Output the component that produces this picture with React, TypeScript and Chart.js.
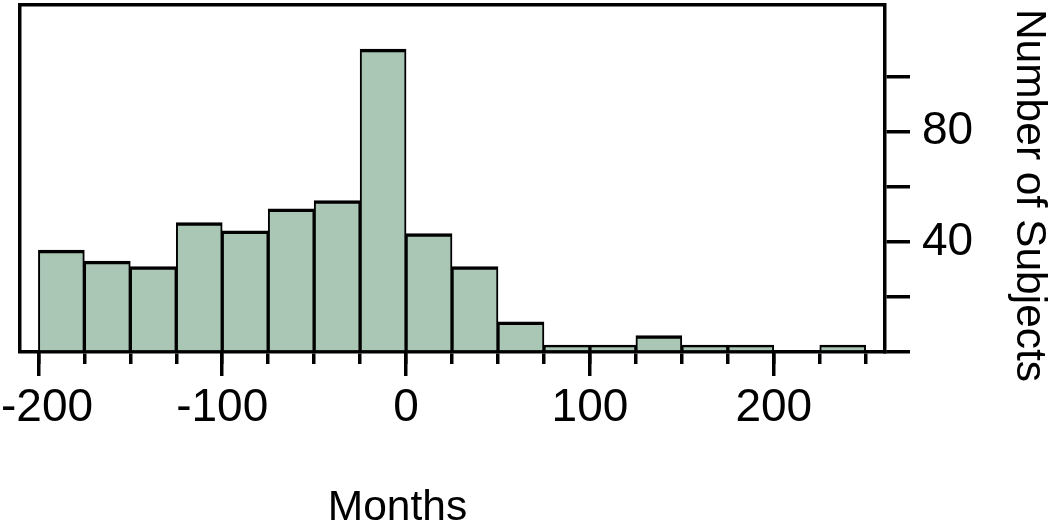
import React, { useEffect, useRef } from "react";
import { Chart, registerables } from "chart.js";

Chart.register(...registerables);

// ---- data ----
const BIN_WIDTH = 25;
const BIN_STARTS = [-200, -175, -150, -125, -100, -75, -50, -25, 0, 25, 50, 75, 100, 125, 150, 175, 200, 225];
const COUNTS = [37, 33, 31, 47, 44, 52, 55, 110, 43, 31, 11, 2.5, 2.5, 6, 2.5, 2.5, 0, 2.5];
const X_MINOR_TICKS = [-200, -175, -150, -125, -100, -75, -50, -25, 0, 25, 50, 75, 100, 125, 150, 175, 200, 225, 250];
const X_MAJOR_TICKS = [-200, -100, 0, 100, 200];
const Y_TICKS = [0, 20, 40, 60, 80, 100];
const Y_LABELED = [40, 80];
const X_TITLE = "Months";
const Y_TITLE = "Number of Subjects";

const FONT = "'Liberation Sans', Arial, Helvetica, sans-serif";
const BAR_FILL = "#aac6b5";
const INK = "#000000";
const LINE_W = 3.5;

const zeroPad = (s: any) => {
  s.paddingLeft = 0;
  s.paddingRight = 0;
  s.paddingTop = 0;
  s.paddingBottom = 0;
};

const titlesPlugin = {
  id: "titlesPlugin",
  beforeDraw(chart: any) {
    const sc = chart.scales.xMajor;
    if (!sc) return;
    const items = sc.getLabelItems();
    if (items && items.length) {
      items[0].options.textAlign = "left";
      items[0].options.translation[0] = 1;
    }
  },
  afterDraw(chart: any) {
    const ctx = chart.ctx;
    ctx.save();
    ctx.fillStyle = INK;
    ctx.font = `42.5px ${FONT}`;
    ctx.textAlign = "center";
    ctx.textBaseline = "alphabetic";
    ctx.fillText(X_TITLE, 397.5, 520);
    ctx.translate(1017, 195.5);
    ctx.rotate(Math.PI / 2);
    ctx.fillText(Y_TITLE, 0, 0);
    ctx.restore();
  },
};

export default function App() {
  const ref = useRef<HTMLCanvasElement | null>(null);

  useEffect(() => {
    if (!ref.current) return;
    const chart = new Chart(ref.current, {
      type: "bar",
      data: {
        datasets: [
          {
            data: BIN_STARTS.map((s, i) => ({ x: s + BIN_WIDTH / 2, y: COUNTS[i] })),
            backgroundColor: BAR_FILL,
            borderColor: INK,
            borderWidth: { top: 3.5, left: 2, right: 2, bottom: 0 },
            borderSkipped: false,
            barPercentage: 1,
            categoryPercentage: 1,
            grouped: false,
            xAxisID: "x",
            yAxisID: "y",
          } as any,
        ],
      },
      options: {
        responsive: false,
        animation: false,
        devicePixelRatio: 1,
        events: [],
        layout: { padding: { left: 20, top: 5, right: 0, bottom: 0 } },
        plugins: {
          legend: { display: false },
          tooltip: { enabled: false },
          title: { display: false },
        },
        scales: {
          x: {
            type: "linear",
            position: "bottom",
            min: -210,
            max: 260.5,
            offset: false,
            weight: 0,
            z: 1,
            afterBuildTicks: (s: any) => {
              s.ticks = X_MINOR_TICKS.map((v) => ({ value: v }));
            },
            afterFit: (s: any) => {
              s.height = 0;
              zeroPad(s);
            },
            grid: {
              display: true,
              offset: false,
              drawOnChartArea: false,
              drawTicks: true,
              tickLength: 12,
              tickWidth: LINE_W,
              lineWidth: LINE_W,
              tickColor: INK,
              color: INK,
            },
            border: { display: true, width: LINE_W, color: INK },
            ticks: { display: false },
          },
          xMajor: {
            type: "linear",
            position: "bottom",
            min: -210,
            max: 260.5,
            offset: false,
            weight: 1,
            z: 1,
            afterBuildTicks: (s: any) => {
              s.ticks = X_MAJOR_TICKS.map((v) => ({ value: v }));
            },
            afterFit: (s: any) => {
              s.height = 173;
              zeroPad(s);
            },
            grid: {
              display: true,
              offset: false,
              drawOnChartArea: false,
              drawTicks: true,
              tickLength: 24,
              tickWidth: LINE_W,
              lineWidth: LINE_W,
              tickColor: INK,
              color: INK,
            },
            border: { display: false },
            ticks: {
              display: true,
              padding: 5,
              color: INK,
              maxRotation: 0,
              minRotation: 0,
              autoSkip: false,
              font: { family: FONT, size: 46 },
              callback: (v: any) => String(v),
            },
          },
          xTop: {
            type: "linear",
            position: "top",
            min: -210,
            max: 260.5,
            offset: false,
            z: 1,
            afterFit: (s: any) => {
              s.height = 0;
              zeroPad(s);
            },
            grid: { display: false, offset: false },
            ticks: { display: false },
            border: { display: true, width: LINE_W, color: INK },
          },
          y: {
            type: "linear",
            position: "right",
            min: 0,
            max: 126,
            z: 1,
            afterBuildTicks: (s: any) => {
              s.ticks = Y_TICKS.map((v) => ({ value: v }));
            },
            afterFit: (s: any) => {
              s.width = 165;
              zeroPad(s);
            },
            grid: {
              display: true,
              drawOnChartArea: false,
              drawTicks: true,
              tickLength: 25,
              tickWidth: LINE_W,
              lineWidth: LINE_W,
              tickColor: INK,
              color: INK,
            },
            border: { display: true, width: LINE_W, color: INK },
            ticks: {
              padding: 12,
              color: INK,
              font: { family: FONT, size: 46 },
              callback: (v: any) => (Y_LABELED.includes(Number(v)) ? String(v) : ""),
            },
          },
          yLeft: {
            type: "linear",
            position: "left",
            min: 0,
            max: 126,
            z: 1,
            afterFit: (s: any) => {
              s.width = 0;
              zeroPad(s);
            },
            grid: { display: false },
            ticks: { display: false },
            border: { display: true, width: LINE_W, color: INK },
          },
        } as any,
      },
      plugins: [titlesPlugin],
    });
    return () => chart.destroy();
  }, []);

  return (
    <div style={{ position: "absolute", left: 0, top: 0, width: 1050, height: 525, background: "#fff" }}>
      <canvas ref={ref} width={1050} height={525} style={{ display: "block" }} />
    </div>
  );
}
